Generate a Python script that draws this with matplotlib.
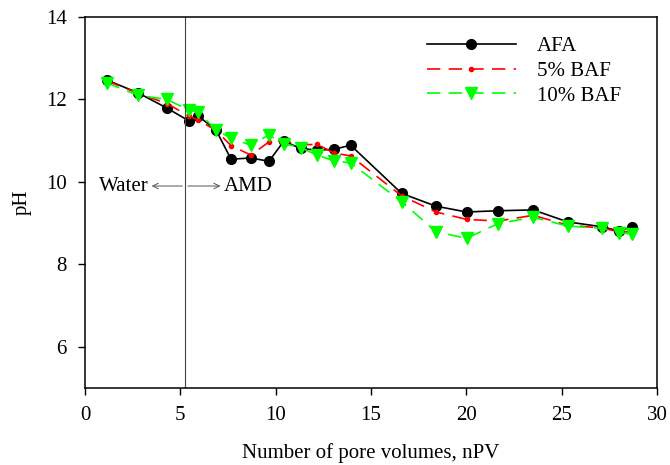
import matplotlib.pyplot as plt
import numpy as np

# pore volumes (same sampling for all three columns)
npv = [1.15, 2.78, 4.30, 5.45, 5.93, 6.87, 7.66, 8.70, 9.65, 10.43, 11.31, 12.18,
       13.06, 13.93, 16.61, 18.41, 20.01, 21.67, 23.51, 25.31, 27.13, 28.0, 28.7]

ph_afa = [12.47, 12.16, 11.79, 11.48, 11.60, 11.26, 10.55, 10.58, 10.50, 10.99, 10.81, 10.77,
          10.79, 10.89, 9.72, 9.41, 9.27, 9.30, 9.32, 9.03, 8.91, 8.81, 8.91]
ph_5baf = [12.45, 12.15, 11.90, 11.60, 11.50, 11.25, 10.88, 10.65, 10.97, 11.00, 10.90, 10.91,
           10.70, 10.63, 9.66, 9.27, 9.09, 9.05, 9.19, 8.95, 8.88, 8.79, 8.79]
ph_10baf = [12.40, 12.10, 12.00, 11.74, 11.70, 11.26, 11.06, 10.89, 11.14, 10.93, 10.83, 10.65,
            10.51, 10.46, 9.52, 8.79, 8.63, 8.99, 9.14, 8.93, 8.87, 8.77, 8.73]

labels = ["AFA", "5% BAF", "10% BAF"]
switch_npv = 5.25

plt.rcParams["font.family"] = ["Liberation Serif", "DejaVu Serif"]
fs = 15

fig = plt.figure(figsize=(6.7, 4.65), dpi=100)
ax = fig.add_axes([85 / 670, 1 - 388 / 465, (657 - 85) / 670, (388 - 17) / 465])

ax.plot(npv, ph_afa, color="black", lw=1.2, marker="o", ms=7, label=labels[0])
ax.plot(npv, ph_5baf, color="#ff0000", lw=1.2, dashes=(8, 5), marker="o", ms=3,
        label=labels[1])
ax.plot(npv, ph_10baf, color="#00ff00", lw=1.2, dashes=(8, 5), marker="v", ms=8,
        label=labels[2])

ax.axvline(switch_npv, color="#444444", lw=0.8)

# Water <-> AMD marker at the switch
arrow = dict(arrowstyle="->", color="#555555", lw=0.7)
ax.annotate("", xy=(3.35, 9.9), xytext=(switch_npv, 9.9), arrowprops=arrow)
ax.annotate("", xy=(7.25, 9.9), xytext=(switch_npv, 9.9), arrowprops=arrow)
ax.text(3.35, 9.9, "Water", ha="right", va="center", fontsize=fs)
ax.text(7.3, 9.9, "AMD", ha="left", va="center", fontsize=fs)

ax.set_xlim(0, 30)
ax.set_ylim(5, 14)
ax.set_xticks(np.arange(0, 31, 5))
ax.set_yticks([6, 8, 10, 12, 14])
ax.tick_params(direction="out", labelsize=fs, length=5, width=1, pad=8)
ax.set_xlabel("Number of pore volumes, nPV", fontsize=fs, labelpad=13)
ax.set_ylabel("pH", fontsize=fs, labelpad=10)
for s in ax.spines.values():
    s.set_linewidth(1.1)

ax.legend(loc="upper right", frameon=False, fontsize=fs, handlelength=4.3,
          handletextpad=1.0, labelspacing=0.25, borderaxespad=0,
          bbox_to_anchor=(0.952, 0.97))

fig.savefig("out.png", dpi=100)
